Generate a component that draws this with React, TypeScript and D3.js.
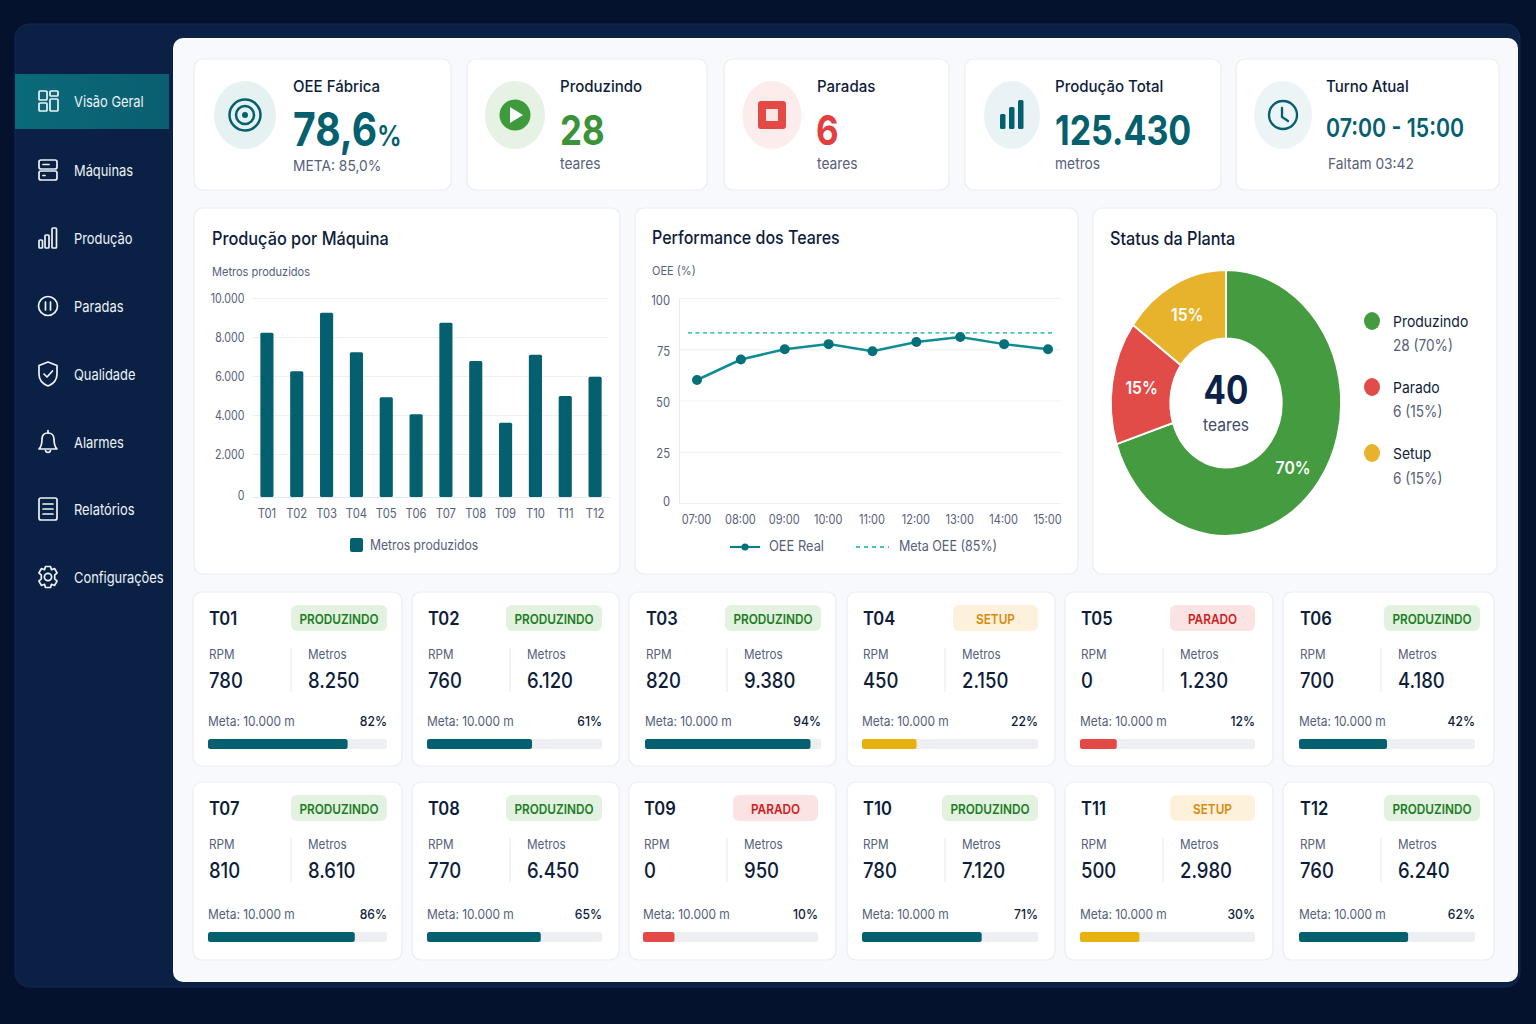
import { useRef, useEffect } from 'react';
import * as d3 from 'd3';

const machines = ['T01', 'T02', 'T03', 'T04', 'T05', 'T06', 'T07', 'T08', 'T09', 'T10', 'T11', 'T12'];
const barValues = [8220, 6240, 9250, 7215, 4910, 4040, 8730, 6770, 3605, 7090, 4975, 5965];
const barTicks = [0, 2000, 4000, 6000, 8000, 10000];

const hours = ['07:00', '08:00', '09:00', '10:00', '11:00', '12:00', '13:00', '14:00', '15:00'];
const oeeValues = [60, 70, 75, 77.5, 74, 78.5, 81, 77.5, 75];
const oeeGoalLine = 83;
const oeeTicks = [0, 25, 50, 75, 100];

const statusNames = ['Produzindo', 'Parado', 'Setup'];
const statusCounts = [28, 6, 6];
const statusColors = ['#459c40', '#e14b48', '#e8b32c'];
const statusSub = ['28 (70%)', '6 (15%)', '6 (15%)'];

const cardStatus = ['P', 'P', 'P', 'S', 'X', 'P', 'P', 'P', 'X', 'P', 'S', 'P'];
const cardRpm = [780, 760, 820, 450, 0, 700, 810, 770, 0, 780, 500, 760];
const cardMetros = [8250, 6120, 9380, 2150, 1230, 4180, 8610, 6450, 950, 7120, 2980, 6240];
const cardPct = [82, 61, 94, 22, 12, 42, 86, 65, 10, 71, 30, 62];
const cardFill = [78, 60, 94, 31, 21, 50, 82, 65, 18, 68, 34, 62];

const navLabels = ['Visão Geral', 'Máquinas', 'Produção', 'Paradas', 'Qualidade', 'Alarmes', 'Relatórios', 'Configurações'];
const navY = [101, 170, 238, 306, 374, 442, 509, 577];

const FONT = 'Inter, sans-serif';
const NAVY = '#0e1d3a';
const GRAY = '#55607a';
const TEAL = '#04606e';

const fmt = d3.formatLocale({ decimal: ',', thousands: '.', grouping: [3], currency: ['R$', ''] }).format(',d');

const statusStyle: Record<string, { label: string; bg: string; fg: string; bar: string; w: number }> = {
  P: { label: 'PRODUZINDO', bg: '#e2f1e0', fg: '#1c7d1f', bar: TEAL, w: 96 },
  S: { label: 'SETUP', bg: '#fdf1dc', fg: '#d98a0c', bar: '#e7b10f', w: 85 },
  X: { label: 'PARADO', bg: '#fbe3e3', fg: '#cf2020', bar: '#e34a46', w: 85 },
};

const cardLefts = [193, 412, 629, 847, 1065, 1283];
const cardRights = [402, 619, 836, 1055, 1273, 1494];
const barLefts = [208, 427, 645, 862, 1080, 1299];
const barRights = [387, 602, 821, 1038, 1255, 1475];

// the reference type is a little narrower than Inter, so texts get squeezed in x
function T({ x, y, s, c = NAVY, w = 400, a = 'start', children, sx = 0.9 }: any) {
  return (
    <text transform={`translate(${x},${y}) scale(${sx},1)`} fontSize={s} fill={c} fontWeight={w} textAnchor={a} dominantBaseline="central" fontFamily={FONT}>
      {children}
    </text>
  );
}

function Card({ x, y, x2, y2, r = 9 }: any) {
  return <rect x={x} y={y} width={x2 - x} height={y2 - y} rx={r} fill="#fff" stroke="#e9edf3" strokeWidth={1.2} />;
}

function NavIcon({ i, y }: { i: number; y: number }) {
  const p = { fill: 'none', stroke: '#eef4f8', strokeWidth: 1.7, strokeLinecap: 'round' as const, strokeLinejoin: 'round' as const };
  let body = null;
  if (i === 0) body = (<g {...p}><rect x={-9} y={-10} width={8} height={9} rx={1} /><rect x={2} y={-10} width={8} height={5} rx={1} /><rect x={-9} y={2} width={8} height={8} rx={1} /><rect x={2} y={-2} width={8} height={12} rx={1} /></g>);
  if (i === 1) body = (<g {...p}><rect x={-9} y={-10} width={18} height={9} rx={2} /><rect x={-9} y={1} width={18} height={9} rx={2} /><path d="M-5 -5.5h6M-5 5.5h2" /></g>);
  if (i === 2) body = (<g {...p}><rect x={-9} y={2} width={3.5} height={8} rx={1} /><rect x={-3} y={-3} width={4} height={13} rx={1} /><rect x={4} y={-10} width={4.5} height={20} rx={1} /></g>);
  if (i === 3) body = (<g {...p}><circle r={9.5} /><path d="M-2.5 -4v8M2.5 -4v8" /></g>);
  if (i === 4) body = (<g {...p}><path d="M0 -12 L9 -8.5 V0 C9 6 5 10 0 12 C-5 10 -9 6 -9 0 V-8.5 Z" /><path d="M-4 0 L-1 3 L4.5 -3" /></g>);
  if (i === 5) body = (<g {...p}><path d="M-9 7 C-6 4 -6 1 -6 -3 C-6 -7 -3.5 -9 0 -9 C3.5 -9 6 -7 6 -3 C6 1 6 4 9 7 Z" /><path d="M0 -9 V-11.5M-2.5 8.5 C-2 11 2 11 2.5 8.5" /></g>);
  if (i === 6) body = (<g {...p}><rect x={-9} y={-11} width={18} height={22} rx={2} /><path d="M-5 -5h10M-5 0h10M-5 5h10" /></g>);
  if (i === 7) body = (<g {...p}><circle r={3.6} /><path d="M-2.5 -10.5 h5 l1 3.2 l3 -1.2 l2.6 4.4 l-2.4 2.2 v3.8 l2.4 2.2 l-2.6 4.4 l-3 -1.2 l-1 3.2 h-5 l-1 -3.2 l-3 1.2 l-2.6 -4.4 l2.4 -2.2 v-3.8 l-2.4 -2.2 l2.6 -4.4 l3 1.2 Z" /></g>);
  return <g transform={`translate(48,${y})`}>{body}</g>;
}

function KpiCard({ x, x2, cx, rx, bg, tx, subX, title, sub, subY = 164, icon, children }: any) {
  return (
    <g>
      <Card x={x} y={59} x2={x2} y2={190} />
      <ellipse cx={cx} cy={115} rx={rx} ry={34} fill={bg} />
      <g transform={`translate(${cx},115)`}>{icon}</g>
      <T x={tx} y={86} s={16} w={500} sx={0.94}>{title}</T>
      {children}
      <T x={subX ?? tx} y={subY} s={15} c={GRAY} sx={0.92}>{sub}</T>
    </g>
  );
}

function MachineCard({ i }: { i: number }) {
  const row = i < 6 ? 0 : 1;
  const col = i % 6;
  const x = cardLefts[col];
  const x2 = cardRights[col];
  const yTop = row === 0 ? 592 : 782;
  const yBot = row === 0 ? 766 : 960;
  const dy = row === 0 ? 0 : 190;
  const dyLow = row === 0 ? 0 : 193;
  const l = i === 8 ? 643 : barLefts[col];
  const r = i === 8 ? 818 : barRights[col];
  const badgeR = col === 5 ? r + 5 : r;
  const st = statusStyle[cardStatus[i]];
  const fill = d3.scaleLinear().domain([0, 100]).range([0, r - l]);
  return (
    <g>
      <Card x={x} y={yTop} x2={x2} y2={yBot} />
      <T x={l + 1} y={618 + dy} s={18} w={600} sx={0.92}>{machines[i]}</T>
      <rect x={badgeR - st.w} y={605 + dy} width={st.w} height={26} rx={6} fill={st.bg} />
      <T x={badgeR - st.w / 2} y={619 + dy} s={13.5} w={600} c={st.fg} a="middle" sx={0.875}>{st.label}</T>
      <T x={l + 1} y={654 + dy} s={13} c={GRAY} sx={0.9}>RPM</T>
      <line x1={x + 98} x2={x + 98} y1={648 + dy} y2={692 + dy} stroke="#e4e8ee" />
      <T x={x + 115} y={654 + dy} s={13} c={GRAY} sx={0.9}>Metros</T>
      <T x={l + 1} y={680.5 + dy} s={21} w={500} sx={0.88}>{cardRpm[i]}</T>
      <T x={x + 115} y={680.5 + dy} s={21} w={500} sx={0.88}>{fmt(cardMetros[i])}</T>
      <T x={l} y={721 + dyLow} s={13.5} c={GRAY} sx={0.885}>Meta: 10.000 m</T>
      <T x={r} y={721 + dyLow} s={13.5} w={500} a="end" sx={0.9}>{cardPct[i]}%</T>
      <rect x={l} y={739 + dyLow} width={r - l} height={10} rx={2.5} fill="#edeff3" />
      <rect x={l} y={739 + dyLow} width={fill(cardFill[i])} height={10} rx={2.5} fill={st.bar} />
    </g>
  );
}

function BarChart() {
  const ref = useRef<SVGGElement>(null);
  useEffect(() => {
    const g = d3.select(ref.current!);
    g.selectAll('*').remove();
    const x = d3.scaleBand<string>().domain(machines).range([252, 610]).paddingInner(0.56).paddingOuter(0.28);
    // the picture's lowest band is a bit taller than the others
    const y = d3.scaleLinear().domain([0, 2000, 10000]).range([497, 454, 298]);

    // grid and labels
    const ay = g.append('g').attr('transform', 'translate(252,0)')
      .call(d3.axisLeft(y).tickValues(barTicks).tickSize(-356).tickPadding(9).tickFormat((d) => fmt(d as number)));
    ay.select('.domain').remove();
    ay.selectAll('line').attr('stroke', '#edf0f4');
    ay.selectAll('text').attr('font-size', 12.5).attr('fill', GRAY).attr('font-family', FONT)
      .attr('transform', (d) => `translate(0,${d === 0 ? -2 : 0}) scale(0.85,1)`);

    g.selectAll('rect.bar').data(barValues).join('rect').attr('class', 'bar')
      .attr('x', (_, i) => x(machines[i])!)
      .attr('y', (d) => y(d))
      .attr('width', x.bandwidth())
      .attr('height', (d) => 497 - y(d))
      .attr('rx', 1.5)
      .attr('fill', '#045f6e');

    const ax = g.append('g').attr('transform', 'translate(0,497)')
      .call(d3.axisBottom(x).tickSize(0).tickPadding(12));
    ax.select('.domain').attr('stroke', '#e4e8ee');
    ax.selectAll('text').attr('font-size', 12.5).attr('fill', GRAY).attr('font-family', FONT)
      .attr('transform', 'scale(0.9,1)');
  }, []);
  return <g ref={ref} />;
}

function LineChart() {
  const ref = useRef<SVGGElement>(null);
  useEffect(() => {
    const g = d3.select(ref.current!);
    g.selectAll('*').remove();
    const x = d3.scalePoint<string>().domain(hours).range([697, 1048]);
    const y = d3.scaleLinear().domain([0, 100]).range([503, 298]);

    const ay = g.append('g').attr('transform', 'translate(679,0)')
      .call(d3.axisLeft(y).tickValues(oeeTicks).tickSize(-382).tickPadding(10));
    ay.select('.domain').attr('stroke', '#e8ebf0');
    ay.selectAll('line').attr('stroke', '#edf0f4');
    ay.selectAll('text').attr('font-size', 12.5).attr('fill', GRAY).attr('font-family', FONT)
      .attr('transform', (d) => `translate(0,${d === 0 ? -2 : 2}) scale(0.9,1)`);

    const ax = g.append('g').attr('transform', 'translate(0,503)')
      .call(d3.axisBottom(x).tickSize(0).tickPadding(12));
    ax.select('.domain').remove();
    ax.selectAll('text').attr('font-size', 12.5).attr('fill', GRAY).attr('font-family', FONT)
      .attr('transform', 'translate(-1,0) scale(0.88,1)');

    g.append('line').attr('x1', 688).attr('x2', 1053).attr('y1', y(oeeGoalLine)).attr('y2', y(oeeGoalLine))
      .attr('stroke', '#45c6ba').attr('stroke-width', 1.8).attr('stroke-dasharray', '4 3.5');

    const line = d3.line<number>().x((_, i) => x(hours[i])!).y((d) => y(d));
    g.append('path').attr('d', line(oeeValues)).attr('fill', 'none').attr('stroke', '#0f8d92').attr('stroke-width', 2.5);
    g.selectAll('circle').data(oeeValues).join('circle')
      .attr('cx', (_, i) => x(hours[i])!)
      .attr('cy', (d) => y(d))
      .attr('r', 5)
      .attr('fill', '#057078');
  }, []);
  return <g ref={ref} />;
}

function Donut() {
  const ref = useRef<SVGGElement>(null);
  useEffect(() => {
    const g = d3.select(ref.current!);
    g.selectAll('*').remove();
    const pie = d3.pie<number>().sort(null);
    const arc = d3.arc<d3.PieArcDatum<number>>().innerRadius(64.5).outerRadius(133);
    const total = d3.sum(statusCounts);
    const arcs = pie(statusCounts);
    const root = g.append('g').attr('transform', 'translate(1226,403) scale(0.865,1)');
    root.selectAll('path').data(arcs).join('path')
      .attr('d', arc)
      .attr('fill', (_, i) => statusColors[i])
      .attr('stroke', '#fff')
      .attr('stroke-width', 2);
    g.selectAll('text').data(arcs).join('text')
      .attr('transform', (d, i) => {
        const [cx, cy] = arc.centroid(d);
        return `translate(${1226 + cx * 0.865 - (i === 0 ? 2 : 0)},${403 + cy + (i === 0 ? 7 : 0)}) scale(0.9,1)`;
      })
      .attr('text-anchor', 'middle')
      .attr('dominant-baseline', 'central')
      .attr('font-size', 17.5)
      .attr('font-weight', 600)
      .attr('font-family', FONT)
      .attr('fill', '#fff')
      .text((d) => `${Math.round((d.value / total) * 100)}%`);
  }, []);
  return <g ref={ref} />;
}

function BigText({ x, y, s, c, w = 700, sx = 0.85, children }: any) {
  return <text transform={`translate(${x},${y}) scale(${sx},1)`} fontFamily={FONT} fontWeight={w} fontSize={s} fill={c}>{children}</text>;
}

export default function App() {
  return (
    <svg width={1536} height={1024} style={{ position: 'absolute', left: 0, top: 0, display: 'block' }}>
      <defs>
        <linearGradient id="nav" x1="0" x2="1" y1="0" y2="0">
          <stop offset="0" stopColor="#0a6a78" />
          <stop offset="1" stopColor="#0a5e70" />
        </linearGradient>
      </defs>
      <rect width={1536} height={1024} fill="#04122e" />
      <rect x={15} y={24} width={1505} height={963} rx={14} fill="#0a2145" stroke="#12294d" />
      <rect x={173} y={38} width={1345} height={944} rx={10} fill="#f7f9fc" />

      {/* menu */}
      <rect x={15} y={74} width={154} height={55} fill="url(#nav)" />
      {navLabels.map((label, i) => (
        <g key={label}>
          <NavIcon i={i} y={navY[i]} />
          <T x={74} y={navY[i]} s={15} c="#eef3f8" sx={0.86}>{label}</T>
        </g>
      ))}

      {/* KPIs */}
      <KpiCard x={194} x2={451} cx={245} rx={31} bg="#e6f1f2" tx={293} title="OEE Fábrica" sub="META: 85,0%" subY={165}
        icon={<g fill="none" stroke={TEAL} strokeWidth={2.5}><circle r={15.5} /><circle r={9} /><circle r={3} fill={TEAL} stroke="none" /></g>}>
        <BigText x={293} y={146} s={46} c={TEAL}>78,6<tspan fontSize={29} fontWeight={600}>%</tspan></BigText>
      </KpiCard>
      <KpiCard x={467} x2={707} cx={515} rx={30} bg="#e6f2e4" tx={560} title="Produzindo" sub="teares" subY={163}
        icon={<g><circle r={15.5} fill="#3e9a3b" /><path d="M-5 -8 L8 0 L-5 8 Z" fill="#fff" /></g>}>
        <BigText x={560} y={145} s={41} c="#3a9338">28</BigText>
      </KpiCard>
      <KpiCard x={724} x2={949} cx={772} rx={29.5} bg="#fcecec" tx={817} title="Paradas" sub="teares" subY={163}
        icon={<g><rect x={-14} y={-14} width={28} height={28} rx={3} fill="#e34a46" /><rect x={-6} y={-6} width={12} height={12} fill="#fbe6e3" /></g>}>
        <BigText x={816} y={145} s={41} c="#e3403d">6</BigText>
      </KpiCard>
      <KpiCard x={965} x2={1221} cx={1012} rx={28} bg="#e9f3f5" tx={1055} title="Produção Total" sub="metros" subY={163}
        icon={<g fill={TEAL}><rect x={-12} y={-1} width={5.5} height={15} rx={1.5} /><rect x={-3} y={-8} width={5.5} height={22} rx={1.5} /><rect x={6} y={-15} width={5.5} height={29} rx={1.5} /></g>}>
        <BigText x={1055} y={145} s={41} sx={0.83} c={TEAL}>125.430</BigText>
      </KpiCard>
      <KpiCard x={1236} x2={1499} cx={1283} rx={29} bg="#edf4f6" tx={1326} subX={1328} title="Turno Atual" sub="Faltam 03:42" subY={163}
        icon={<g fill="none" stroke={TEAL} strokeWidth={2.3} strokeLinecap="round"><circle r={14} /><path d="M-1 -7 V2 L5 6" /></g>}>
        <BigText x={1326} y={137} s={26} w={600} sx={0.82} c={TEAL}>07:00 - 15:00</BigText>
      </KpiCard>

      {/* chart cards */}
      <Card x={194} y={208} x2={620} y2={574} />
      <T x={212} y={238} s={18} w={500} sx={0.905}>Produção por Máquina</T>
      <T x={212} y={272} s={12} c={GRAY} sx={0.92}>Metros produzidos</T>
      <BarChart />
      <rect x={350} y={538} width={13} height={14} rx={2} fill="#045f6e" />
      <T x={370} y={545} s={14} c={GRAY} sx={0.87}>Metros produzidos</T>

      <Card x={635} y={208} x2={1078} y2={574} />
      <T x={652} y={238} s={18} w={500} sx={0.89}>Performance dos Teares</T>
      <T x={652} y={271} s={12} c={GRAY} sx={0.92}>OEE (%)</T>
      <LineChart />
      <line x1={730} x2={760} y1={547} y2={547} stroke="#0f7f86" strokeWidth={2.2} />
      <circle cx={745} cy={547} r={3.5} fill="#057078" />
      <T x={769} y={546} s={14} c={GRAY} sx={0.92}>OEE Real</T>
      <line x1={856} x2={889} y1={547} y2={547} stroke="#45c6ba" strokeWidth={1.8} strokeDasharray="4 4" />
      <T x={899} y={546} s={14} c={GRAY} sx={0.895}>Meta OEE (85%)</T>

      <Card x={1093} y={208} x2={1497} y2={574} />
      <T x={1110} y={238} s={18} w={500} sx={0.9}>Status da Planta</T>
      <Donut />
      <T x={1226} y={390} s={39} w={700} a="middle" c="#0c2148" sx={0.85}>{d3.sum(statusCounts)}</T>
      <T x={1226} y={425} s={17} c="#3d4a68" a="middle" sx={0.92}>teares</T>
      {statusNames.map((name, i) => (
        <g key={name}>
          <ellipse cx={1372} cy={321 + i * 66} rx={8} ry={9} fill={statusColors[i]} />
          <T x={1393} y={321.5 + i * 66} s={15} sx={0.93}>{name}</T>
          <T x={1393} y={345.5 + i * 66.5} s={15.5} c={GRAY} sx={0.88}>{statusSub[i]}</T>
        </g>
      ))}

      {/* teares */}
      {machines.map((_, i) => <MachineCard key={i} i={i} />)}
    </svg>
  );
}
